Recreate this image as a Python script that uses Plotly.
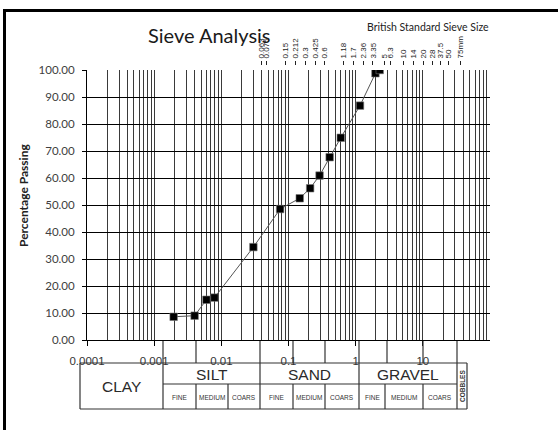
import plotly.graph_objects as go

# ---------------- data ----------------
grain_size_mm = [0.00195, 0.004, 0.006, 0.0079, 0.03, 0.075, 0.147, 0.21, 0.29, 0.41, 0.6, 1.16, 1.97, 2.28]
percent_passing = [8.6, 9.0, 14.9, 15.7, 34.4, 48.5, 52.5, 56.2, 60.9, 67.7, 74.9, 86.8, 98.8, 100.0]

x_tick_vals = [0.0001, 0.001, 0.01, 0.1, 1, 10]
x_tick_text = ["0.0001", "0.001", "0.01", "0.1", "1", "10"]

sieve_sizes = [0.063, 0.075, 0.15, 0.212, 0.3, 0.425, 0.6, 1.18, 1.7, 2.36, 3.35, 5, 6.3,
               10, 14, 20, 28, 37.5, 50, 75]
sieve_labels = ["0.063", "0.075", "0.15", "0.212", "0.3", "0.425", "0.6", "1.18", "1.7", "2.36",
                "3.35", "5", "6.3", "10", "14", "20", "28", "37.5", "50", "75mm"]

soil_classes = ["CLAY", "SILT", "SAND", "GRAVEL"]
sub_classes = ["FINE", "MEDIUM", "COARS"]

# ---------------- geometry helpers ----------------
W, H = 558, 430
L, R, T, B = 87, 68, 60, 90
PW, PH = W - L - R, H - T - B


def px(p):
    return (p - L) / PW


def py(p):
    return (H - B - p) / PH


minor_vals = [m * 10 ** e for e in range(-4, 2) for m in range(2, 10)] + [100]

fig = go.Figure()
fig.add_trace(go.Scatter(
    x=grain_size_mm, y=percent_passing, mode="lines+markers",
    line=dict(color="#555555", width=1),
    marker=dict(symbol="square", size=7.5, color="black", line=dict(color="#777777", width=0.6)),
    showlegend=False, hoverinfo="x+y"))
# carrier for the top sieve-size axis
fig.add_trace(go.Scatter(x=sieve_sizes, y=[0] * len(sieve_sizes), xaxis="x2", mode="markers",
                         marker=dict(opacity=0), showlegend=False, hoverinfo="skip"))

grid_col = "#3a3a3a"
fig.update_layout(
    width=W, height=H, margin=dict(l=L, r=R, t=T, b=B),
    paper_bgcolor="white", plot_bgcolor="white",
    xaxis=dict(type="log", range=[-4, 2], tickmode="array", tickvals=x_tick_vals, ticktext=x_tick_text,
               showgrid=True, gridcolor=grid_col, gridwidth=1,
               showline=True, linecolor="black", linewidth=1,
               ticks="outside", ticklen=5, tickcolor="black",
               tickfont=dict(family="Liberation Sans", size=11.5, color="#333333"),
               ticklabelstandoff=5,
               minor=dict(tickmode="array", tickvals=minor_vals, showgrid=True,
                          gridcolor=grid_col, gridwidth=1, ticks=""),
               zeroline=False, fixedrange=True),
    xaxis2=dict(type="log", overlaying="x", side="top", anchor="free", position=(H - B - 65) / PH,
                range=[-3.904, 2.339], tickmode="array", tickvals=sieve_sizes, ticktext=sieve_labels,
                tickangle=-90, ticks="outside", ticklen=4, tickcolor="#222222",
                tickfont=dict(family="Liberation Sans Narrow, Liberation Sans", size=8, color="#222222"),
                ticklabelstandoff=1, showgrid=False, showline=False, zeroline=False),
    yaxis=dict(range=[0, 100], domain=[0, (H - B - 70) / PH], dtick=10, tickformat=".2f",
               showgrid=True, gridcolor="black", gridwidth=1,
               showline=True, linecolor="black", linewidth=1,
               ticks="outside", ticklen=4, tickcolor="black",
               tickfont=dict(family="Lato", size=11.5, color="#404040"),
               ticklabelstandoff=5, zeroline=False),
)

shapes = []
line_style = dict(color="#333333", width=1.2)


def seg(x0, y0, x1, y1, **kw):
    st = dict(line_style)
    st.update(kw)
    shapes.append(dict(type="line", xref="paper", yref="paper",
                       x0=px(x0), y0=py(y0), x1=px(x1), y1=py(y1), line=st))


# connectors from the axis down to the table
for xx in [163, 196, 260, 293, 325, 359, 387, 423, 457]:
    seg(xx, 341, xx, 363)
# table outline
seg(80, 363, 467, 363)
seg(163, 384, 457, 384)
seg(80, 409, 467, 409)
seg(80, 363, 80, 409)
for xx in [163, 260, 359, 457, 467]:
    seg(xx, 363, xx, 409)
for xx in [196, 228, 293, 325, 385, 423]:
    seg(xx, 384, xx, 409)

# outer frame
seg(5, 10.5, 558, 10.5, color="black", width=3)
seg(4.5, 9, 4.5, 430, color="black", width=3)

fig.update_layout(shapes=shapes)

ann = []


def text(x, y, s, size, family="Liberation Sans Narrow, Liberation Sans", color="#333333", angle=0, bold=False):
    ann.append(dict(x=px(x), y=py(y), xref="paper", yref="paper", text=("<b>%s</b>" % s) if bold else s,
                    showarrow=False, textangle=angle, xanchor="center", yanchor="middle",
                    font=dict(family=family, size=size, color=color)))


text(209, 35, "Sieve Analysis", 20, family="Lato", color="#1a1a1a")
text(428, 27, "British Standard Sieve Size", 10.5, family="Lato", color="#222222")
text(23, 196, "Percentage Passing", 12, family="Lato", color="#222222", angle=-90, bold=True)

main_centers = [121.5, 211.5, 309.5, 408]
for name, cx in zip(soil_classes, main_centers):
    text(cx, 386 if name == "CLAY" else 374.5, name, 15.5, color="#2a2a2a")

sub_centers = [[179.5, 212, 244], [276.5, 309, 342], [372, 404, 440]]
for group in sub_centers:
    for name, cx in zip(sub_classes, group):
        text(cx, 397, name, 6.5, family="Liberation Sans", color="#333333")
text(462, 386, "COBBLES", 6.5, family="Liberation Sans", color="#333333", angle=-90, bold=True)

fig.update_layout(annotations=ann)

fig.write_html("out.html", config={"displayModeBar": False},
               post_script="document.body.style.margin='0';document.body.style.padding='0';")
